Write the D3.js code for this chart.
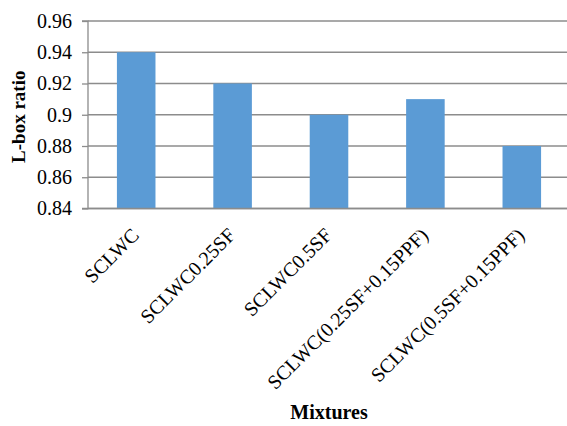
<!DOCTYPE html>
<html>
<head>
<meta charset="utf-8">
<script src="https://cdn.jsdelivr.net/npm/d3@7"></script>
<style>
  body { margin: 0; background: #fff; }
  svg { display: block; }
  svg text { font-family: "Liberation Serif", "Times New Roman", serif; fill: #000; }
</style>
</head>
<body>
<svg id="chart" width="567" height="426"></svg>
<script>
// L-box ratio for each mixture
const categories = ["SCLWC", "SCLWC0.25SF", "SCLWC0.5SF", "SCLWC(0.25SF+0.15PPF)", "SCLWC(0.5SF+0.15PPF)"];
const values = [0.94, 0.92, 0.90, 0.91, 0.88];
const yTicks = [0.84, 0.86, 0.88, 0.9, 0.92, 0.94, 0.96];

const serif = '"Liberation Serif", "Times New Roman", serif';
const svg = d3.select("#chart");
const plot = { left: 88, right: 570, top: 21, bottom: 208.5 };

const x = d3.scaleBand().domain(categories).range([plot.left, plot.right]).paddingInner(0.6).paddingOuter(0.3);
const y = d3.scaleLinear().domain([0.84, 0.96]).range([plot.bottom, plot.top]);

// horizontal gridlines
svg.append("g").selectAll("line").data(yTicks).join("line")
  .attr("x1", plot.left).attr("x2", plot.right)
  .attr("y1", d => y(d)).attr("y2", d => y(d))
  .attr("stroke", "#8c8c8c").attr("stroke-width", 1.3);

// bars
svg.append("g").selectAll("rect").data(values).join("rect")
  .attr("x", (d, i) => x(categories[i]))
  .attr("width", x.bandwidth())
  .attr("y", d => y(d))
  .attr("height", d => y(0.84) - y(d))
  .attr("fill", "#5b9bd5");

// y axis
const yAxis = d3.axisLeft(y).tickValues(yTicks).tickFormat(d => String(+d.toFixed(2))).tickSize(6).tickPadding(10);
const gy = svg.append("g").attr("transform", `translate(${plot.left},0)`).call(yAxis)
  .attr("font-family", null).attr("font-size", null);
gy.select(".domain").attr("stroke", "#8c8c8c").attr("stroke-width", 1.3).attr("d", `M-6,${plot.top}H0V${plot.bottom}H-6`);
gy.selectAll(".tick line").attr("stroke", "#8c8c8c").attr("stroke-width", 1.3);
gy.selectAll(".tick text").style("font-family", serif).style("font-size", "20px").attr("fill", "#000");

// x-axis baseline
svg.append("line").attr("x1", plot.left).attr("x2", plot.right)
  .attr("y1", plot.bottom).attr("y2", plot.bottom)
  .attr("stroke", "#8c8c8c").attr("stroke-width", 1.3);

// rotated category labels
svg.append("g").selectAll("text").data(categories).join("text")
  .attr("transform", d => `translate(${x(d) + x.bandwidth() / 2 + 4},${plot.bottom + 28}) rotate(-45)`)
  .attr("text-anchor", "end")
  .style("font-family", serif).style("font-size", "20px")
  .text(d => d);

// axis titles
svg.append("text")
  .attr("transform", `translate(25,${(plot.top + plot.bottom) / 2 + 2}) rotate(-90)`)
  .attr("text-anchor", "middle")
  .style("font-family", serif).style("font-size", "19px").style("font-weight", "bold")
  .text("L-box ratio");

svg.append("text")
  .attr("x", 329).attr("y", 419)
  .attr("text-anchor", "middle")
  .style("font-family", serif).style("font-size", "20px").style("font-weight", "bold")
  .text("Mixtures");
</script>
</body>
</html>
